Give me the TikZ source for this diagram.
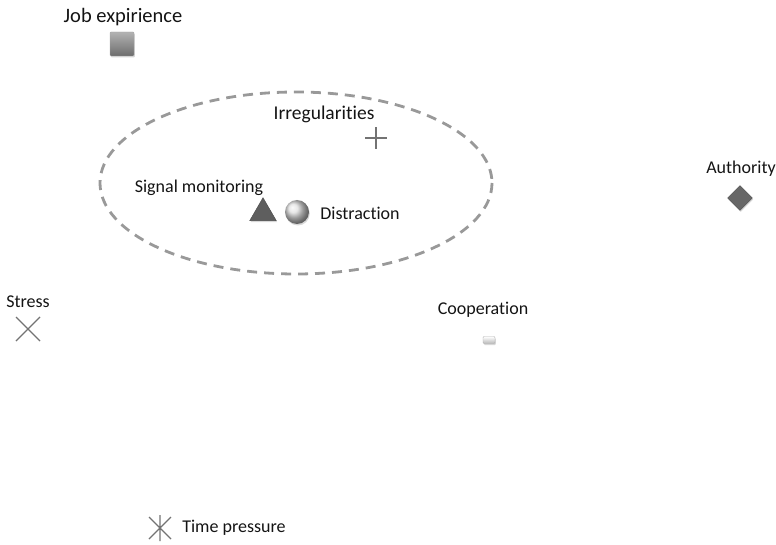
\documentclass[tikz,border=0pt]{standalone}
\usepackage{fontspec}
\setmainfont{Carlito}[Ligatures=NoCommon]
\usetikzlibrary{shapes.geometric,shadows}
\definecolor{markgray}{gray}{0.45}
\definecolor{darkmark}{gray}{0.3}
\definecolor{ringgray}{gray}{0.6}
\begin{document}
\begin{tikzpicture}[x=1pt,y=-1pt,
  lbl/.style={font=\fontsize{18}{21}\selectfont, text=black!92, inner sep=0pt},
  biglbl/.style={font=\fontsize{20.5}{24}\selectfont, text=black!92, inner sep=0pt},
  markshadow/.style={drop shadow={shadow xshift=0.8pt, shadow yshift=-1.5pt, fill=black!30, opacity=0.5}},
  sqmark/.style={rectangle, minimum size=24pt, inner sep=0pt, top color=gray!60, bottom color=gray!85!black, draw=gray!70, line width=0.4pt, rounded corners=1pt, markshadow},
  trimark/.style={isosceles triangle, isosceles triangle apex angle=60, shape border rotate=90, minimum height=23pt, inner sep=0pt, fill=darkmark!90, draw=darkmark, markshadow},
  ballmark/.style={circle, minimum size=24pt, inner sep=0pt, ball color=gray!25, markshadow},
  dmmark/.style={diamond, minimum size=25pt, inner sep=0pt, fill=darkmark!85, draw=darkmark, markshadow},
  barmark/.style={rectangle, minimum width=12pt, minimum height=7pt, inner sep=0pt, top color=white, bottom color=gray!55, draw=gray!60, rounded corners=1pt, markshadow},
  strokemark/.style={draw=markgray, line width=1.2pt}
]
\useasboundingbox (0,0) rectangle (776,545);

% dashed grouping ellipse
\draw[ringgray, line width=2.8pt, dash pattern=on 10pt off 7pt] (296,183) ellipse [x radius=196, y radius=91];

% labels
\node[biglbl] (tjob) at (123,17) {Job expirience};
\node[lbl, font=\fontsize{19.5}{23}\selectfont] (tirr) at (324,114) {Irregularities};
\node[lbl] (tsig) at (199,188) {Signal monitoring};
\node[lbl] (tdis) at (360,213) {Distraction};
\node[lbl] (taut) at (741,169) {Authority};
\node[lbl] (tstr) at (28,302) {Stress};
\node[lbl] (tcoo) at (483,310) {Cooperation};
\node[lbl] (ttim) at (234,528) {Time pressure};

% markers
\node[sqmark] (mjob) at (122,44) {};
\node[trimark] (msig) at (263,213) {};
\node[ballmark] (mdis) at (297,212) {};
\node[dmmark] (maut) at (740,198) {};
\node[barmark] (mcoo) at (489,340) {};

% stroke-style markers
\coordinate (mirr) at (376,138);
\draw[strokemark] ([xshift=-11pt]mirr) -- ([xshift=11pt]mirr) ([yshift=-11pt]mirr) -- ([yshift=11pt]mirr);
\coordinate (mstr) at (28,329);
\draw[strokemark] ([shift={(-12pt,-12pt)}]mstr) -- ([shift={(12pt,12pt)}]mstr) ([shift={(-12pt,12pt)}]mstr) -- ([shift={(12pt,-12pt)}]mstr);
\coordinate (mtim) at (160,528);
\draw[strokemark] ([shift={(-11pt,-11pt)}]mtim) -- ([shift={(11pt,11pt)}]mtim) ([shift={(-11pt,11pt)}]mtim) -- ([shift={(11pt,-11pt)}]mtim) ([yshift=-13pt]mtim) -- ([yshift=13pt]mtim);
\end{tikzpicture}
\end{document}
